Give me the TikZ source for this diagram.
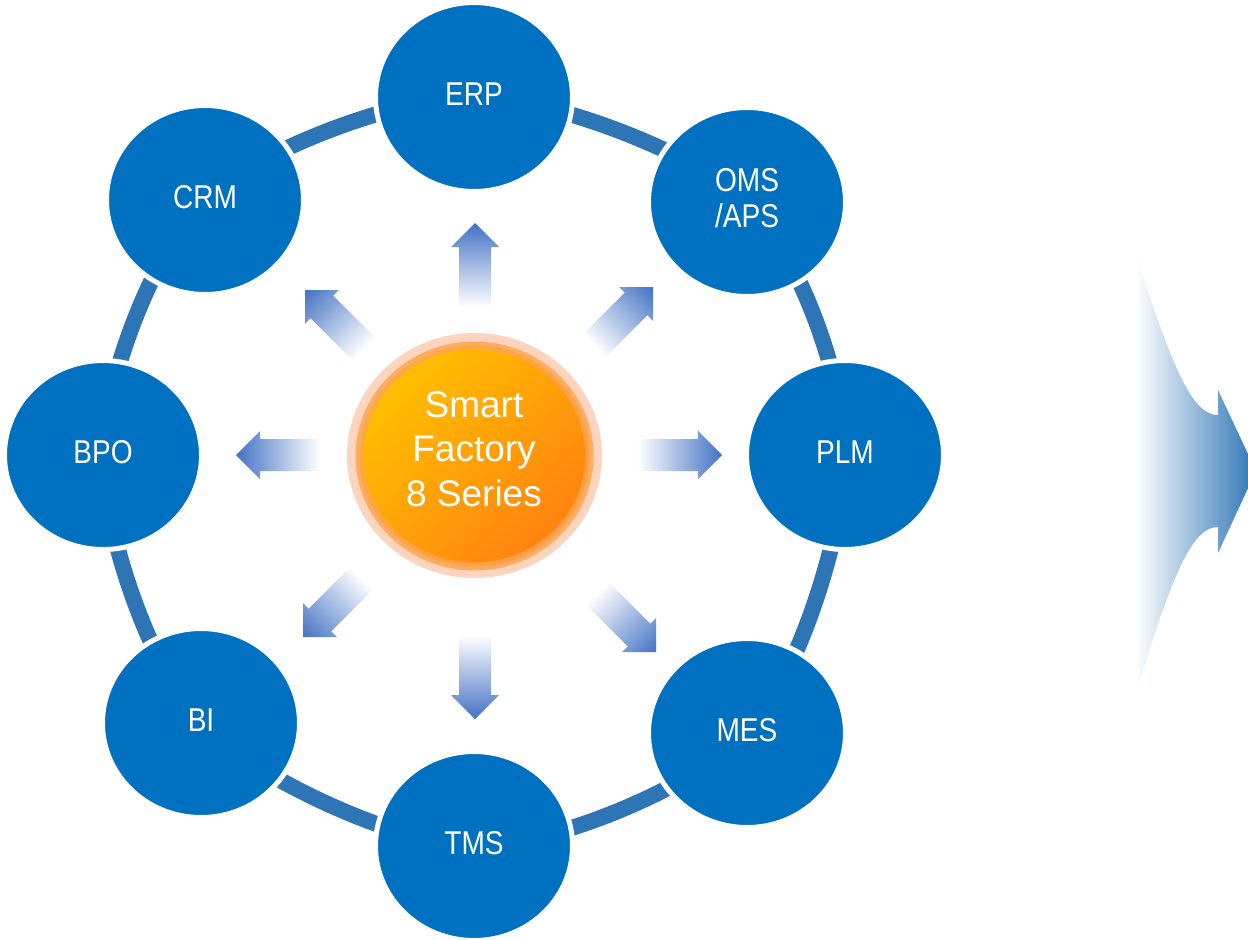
\documentclass[tikz,border=0pt]{standalone}
\usepackage{fontspec}
\setmainfont{Liberation Sans}
\newfontfamily\labfont[FakeStretch=0.85]{Liberation Sans}
\usetikzlibrary{shapes.geometric}
\definecolor{nodeblue}{HTML}{0070C0}
\definecolor{ringblue}{HTML}{2E75B6}
\definecolor{arrowblue}{HTML}{4472C4}
\definecolor{halo}{HTML}{FDD5BE}
\definecolor{orangeA}{HTML}{FFC000}
\definecolor{orangeB}{HTML}{FF8210}
\definecolor{orangeRing}{HTML}{FFA550}
\newcommand{\flowarrow}[2]{%
  \shade[transform canvas={shift={#1},rotate=#2}, left color=white, right color=arrowblue]
    (0,0) -- (-24,24) -- (-24,16) -- (-84,16) -- (-84,-16) -- (-24,-16) -- (-24,-24) -- cycle;}
\begin{document}
\begin{tikzpicture}[x=1pt,y=-1pt,
  sysnode/.style={ellipse, fill=nodeblue, draw=white, line width=5pt,
    minimum width=197pt, minimum height=189pt, inner sep=0pt},
  syslabel/.style={text=white, font=\labfont\fontsize{33}{36}\selectfont,
    align=center, inner sep=0pt},
  centerlabel/.style={text=white, font=\fontsize{37}{44.5}\selectfont,
    align=center, inner sep=0pt},
  ringline/.style={ringblue, line width=16pt}]
\useasboundingbox (0,0) rectangle (1248,940);
\fill[white] (0,0) rectangle (1248,940);

% ring
\draw[ringline] plot[smooth cycle] coordinates {(474,97) (747,202) (845,455) (747,733) (474,846) (201,723) (103,455) (205,200)};

% system nodes
\node[sysnode] (erp) at (474,97) {};
\node[sysnode] (oms) at (747,202) {};
\node[sysnode] (plm) at (845,455) {};
\node[sysnode] (mes) at (747,733) {};
\node[sysnode] (tms) at (474,846) {};
\node[sysnode] (bi)  at (201,723) {};
\node[sysnode] (bpo) at (103,455) {};
\node[sysnode] (crm) at (205,200) {};

\node[syslabel] (erpl) at (474,94.5) {ERP};
\node[syslabel] (omsl) at (747,198) {OMS\\/APS};
\node[syslabel] (plml) at (845,452.5) {PLM};
\node[syslabel] (mesl) at (747,730.5) {MES};
\node[syslabel] (tmsl) at (474,843.5) {TMS};
\node[syslabel] (bil)  at (201,720.5) {BI};
\node[syslabel] (bpol) at (103,452.5) {BPO};
\node[syslabel] (crml) at (205,197.5) {CRM};

% center
\fill[halo] (474.5,455.5) ellipse [x radius=127.5, y radius=122.5];
\shade[top color=orangeA, bottom color=orangeB, shading angle=45]
  (474.5,456) ellipse [x radius=115, y radius=110.5];
\draw[orangeRing, opacity=0.85, line width=8pt] (474.5,456) ellipse [x radius=115, y radius=110.5];
\node[centerlabel] (center) at (474,449) {Smart\\Factory\\8 Series};

% radiating arrows
\flowarrow{(475,223)}{90}
\flowarrow{(653,287)}{45}
\flowarrow{(722,455)}{0}
\flowarrow{(656,652)}{-45}
\flowarrow{(475,719)}{-90}
\flowarrow{(303,637)}{-135}
\flowarrow{(236,455)}{180}
\flowarrow{(305,290)}{135}

% big right arrow
\begin{scope}
\clip (0,0) rectangle (1248,940);
\shade[left color=white, right color=ringblue]
  (1135,250) .. controls (1175,380) and (1195,415) .. (1218,415)
  -- (1218,390) -- (1256,471) -- (1218,553) -- (1218,527)
  .. controls (1195,527) and (1175,562) .. (1135,697) -- cycle;
\end{scope}
\end{tikzpicture}
\end{document}
